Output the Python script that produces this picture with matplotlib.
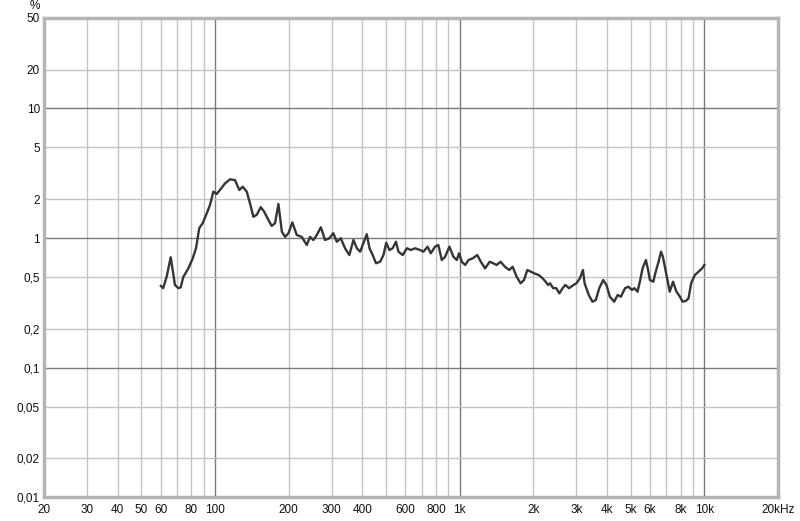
import matplotlib.pyplot as plt
from matplotlib.ticker import FixedLocator, NullFormatter

plt.rcParams['font.family'] = ['Liberation Sans', 'DejaVu Sans']

# THD+N-style curve, percent vs frequency
freq = [60.1, 61.4, 63.4, 65.9, 67.1, 68.6, 70.8, 72.4, 74.2, 77.8, 81.1, 83.6,
        86.2, 89.0, 92.5, 95.4, 98.4, 101.6, 104.8, 109.9, 115.2, 120.7, 125.7,
        129.8, 134.8, 139.0, 143.5, 148.1, 153.8, 158.7, 165.2, 170.5, 175.9,
        181.6, 187.6, 193.4, 199.6, 207.1, 215.8, 226.1, 237.2, 244.6, 252.5,
        260.6, 270.8, 281.6, 293.1, 304.5, 314.6, 326.6, 340, 354, 368, 380,
        392, 404, 417, 428, 441, 455, 473, 488, 501, 516, 532, 549, 562, 585,
        608, 632, 657, 689, 711, 739, 762, 793, 818, 845, 872, 908, 943, 973,
        994, 1020, 1053, 1087, 1131, 1180, 1220, 1270, 1326, 1372, 1416, 1470,
        1530, 1595, 1646, 1711, 1774, 1832, 1890, 1957, 2020, 2104, 2181, 2245,
        2297, 2340, 2410, 2480, 2555, 2636, 2700, 2800, 2920, 3000, 3100, 3190,
        3240, 3370, 3490, 3600, 3720, 3860, 3980, 4110, 4280, 4420, 4560, 4740,
        4890, 5060, 5180, 5330, 5470, 5590, 5770, 5890, 5990, 6190, 6300, 6500,
        6650, 6770, 6960, 7220, 7450, 7690, 7950, 8150, 8430, 8620, 8830, 9140,
        9470, 9790, 10000]
pct = [0.426, 0.41, 0.50, 0.71, 0.566, 0.434, 0.41, 0.416, 0.50, 0.583, 0.697,
       0.832, 1.19, 1.30, 1.55, 1.80, 2.28, 2.19, 2.35, 2.64, 2.84, 2.80, 2.35,
       2.49, 2.28, 1.85, 1.46, 1.51, 1.73, 1.60, 1.38, 1.24, 1.30,
       1.83, 1.12, 1.02, 1.09, 1.32, 1.055, 1.02, 0.883, 1.02, 0.965,
       1.055, 1.21, 0.965, 0.995, 1.09, 0.936, 0.995, 0.833, 0.739, 0.965, 0.833,
       0.784, 0.91, 1.07, 0.833, 0.739, 0.638, 0.656, 0.739, 0.92, 0.808, 0.833,
       0.936, 0.784, 0.739, 0.833, 0.808, 0.833, 0.808, 0.784, 0.857, 0.762,
       0.857, 0.883, 0.676, 0.717, 0.857, 0.717, 0.676, 0.762, 0.656, 0.619,
       0.676, 0.697, 0.739, 0.656, 0.583, 0.656, 0.638, 0.619, 0.656, 0.600,
       0.566, 0.60, 0.50, 0.447, 0.474, 0.566, 0.549, 0.533, 0.518, 0.489,
       0.46, 0.434, 0.447, 0.41, 0.41, 0.374, 0.41, 0.434, 0.41, 0.434, 0.447,
       0.489, 0.566, 0.447, 0.363, 0.322, 0.332, 0.41, 0.474, 0.434, 0.352,
       0.322, 0.363, 0.352, 0.41, 0.421, 0.397, 0.41, 0.385, 0.474, 0.583,
       0.676, 0.566, 0.474, 0.46, 0.533, 0.656, 0.784, 0.717, 0.549, 0.385,
       0.46, 0.385, 0.352, 0.322, 0.328, 0.343, 0.447, 0.518, 0.549, 0.583,
       0.619]

x_major = [100, 1000, 10000]
x_minor = [30, 40, 50, 60, 70, 80, 90, 200, 300, 400, 500, 600, 700, 800, 900,
           2000, 3000, 4000, 5000, 6000, 7000, 8000, 9000]
x_labels = {20: "20", 30: "30", 40: "40", 50: "50", 60: "60", 80: "80",
            100: "100", 200: "200", 300: "300", 400: "400", 600: "600",
            800: "800", 1000: "1k", 2000: "2k", 3000: "3k", 4000: "4k",
            5000: "5k", 6000: "6k", 8000: "8k", 10000: "10k", 20000: "20kHz"}
y_major = [0.1, 1, 10]
y_minor = [0.02, 0.05, 0.2, 0.5, 2, 5, 20]
y_labels = {0.01: "0,01", 0.02: "0,02", 0.05: "0,05", 0.1: "0,1", 0.2: "0,2",
            0.5: "0,5", 1: "1", 2: "2", 5: "5", 10: "10", 20: "20", 50: "50"}

fig = plt.figure(figsize=(8, 5.21), dpi=100)
ax = fig.add_axes([0.055, 0.046, 0.9175, 0.9195])
ax.set_xscale("log")
ax.set_yscale("log")
ax.set_xlim(20, 20000)
ax.set_ylim(0.01, 50)

for v in x_minor:
    ax.axvline(v, color="#c4c4c4", lw=1, zorder=1)
for v in x_major:
    ax.axvline(v, color="#7a7a7a", lw=1, zorder=1)
for v in y_minor:
    ax.axhline(v, color="#c4c4c4", lw=1, zorder=1)
for v in y_major:
    ax.axhline(v, color="#7a7a7a", lw=1, zorder=1)

ax.plot(freq, pct, color="#353535", lw=1.7, zorder=3)

ax.xaxis.set_major_locator(FixedLocator(list(x_labels.keys())))
ax.xaxis.set_minor_locator(FixedLocator([]))
ax.set_xticklabels(list(x_labels.values()))
ax.xaxis.set_minor_formatter(NullFormatter())
ax.yaxis.set_major_locator(FixedLocator(list(y_labels.keys())))
ax.yaxis.set_minor_locator(FixedLocator([]))
ax.set_yticklabels(list(y_labels.values()))
ax.yaxis.set_minor_formatter(NullFormatter())
ax.tick_params(length=0, labelsize=8.5, colors="#111111")
ax.tick_params(axis="x", pad=5)
ax.tick_params(axis="y", pad=3)

for s in ax.spines.values():
    s.set_color("#b5b5b5")
    s.set_linewidth(2.5)

ax.text(-0.006, 1.012, "%", transform=ax.transAxes, ha="right", va="bottom",
        fontsize=8.5, color="#111111")

fig.savefig("out.png", dpi=100)
